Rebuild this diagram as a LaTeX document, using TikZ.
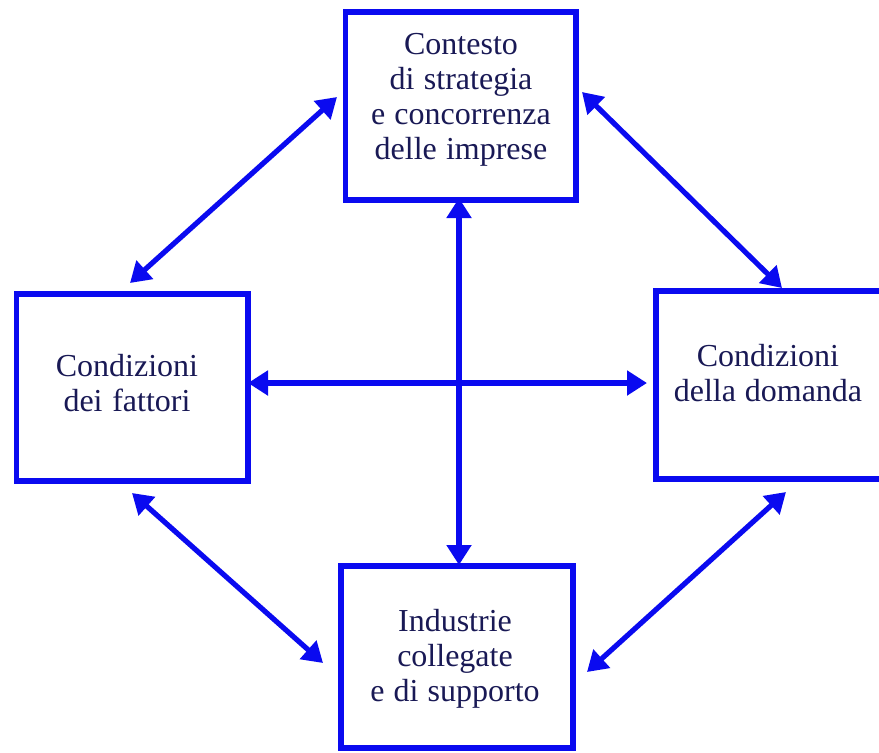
\documentclass[tikz,border=0pt]{standalone}
\usepackage{fontspec}
\setmainfont{Liberation Serif}
\usetikzlibrary{arrows.meta}
\definecolor{lineblue}{RGB}{10,10,240}
\definecolor{textnavy}{RGB}{25,25,85}
\newcommand\mywsp{\spaceskip=0.25em plus 0.05em\relax\xspaceskip=0.25em\relax}
\tikzset{
  box/.style={draw=lineblue, line width=5.5pt, fill=white, outer sep=0pt, inner sep=0pt},
  lbl/.style={text=textnavy, text width=260pt, align=center, anchor=base, inner sep=0pt,
    font=\fontsize{32pt}{35pt}\selectfont},
  biarrow/.style={draw=lineblue, line width=5.2pt,
    {Triangle[length=20pt,width=24pt]}-{Triangle[length=20pt,width=24pt]}}
}
\begin{document}
\begin{tikzpicture}[x=1pt,y=-1pt]
\useasboundingbox (0,0) rectangle (879,753);
\clip (0,0) rectangle (879,753);
\fill[white] (0,0) rectangle (879,753);
% boxes
\node[box, minimum width=230.5pt, minimum height=188pt] (top) at (460.75,106) {};
\node[box, minimum width=231.5pt, minimum height=187pt] (lft) at (132.25,387.5) {};
\node[box, minimum width=226pt, minimum height=188pt] (rgt) at (769,385) {};
\node[box, minimum width=232pt, minimum height=182pt] (bot) at (457,657) {};
% labels
\node[lbl] (ttop) at (461,54) {\mywsp Contesto\\di strategia\\e concorrenza\\delle imprese};
\node[lbl] (tlft) at (127,376) {\mywsp Condizioni\\dei fattori};
\node[lbl] (trgt) at (768,366) {\mywsp Condizioni\\della domanda};
\node[lbl] (tbot) at (455,631) {\mywsp Industrie\\collegate\\e di supporto};
% connector ends
\coordinate (vx) at (459,0);
\coordinate (hy) at (0,383);
\coordinate (a1) at (337,97);
\coordinate (b1) at (130,283);
\coordinate (a2) at (582,92);
\coordinate (b2) at (782,288);
\coordinate (a3) at (132,493);
\coordinate (b3) at (323,663);
\coordinate (a4) at (786,492);
\coordinate (b4) at (587,672);
% connectors
\draw[biarrow] (lft.east |- hy) -- ([xshift=-9pt]rgt.west |- hy);
\draw[biarrow] ([yshift=2pt]top.south -| vx) -- ([yshift=1pt]bot.north -| vx);
\draw[biarrow] (a1) -- (b1);
\draw[biarrow] (a2) -- (b2);
\draw[biarrow] (a3) -- (b3);
\draw[biarrow] (a4) -- (b4);
\end{tikzpicture}
\end{document}
